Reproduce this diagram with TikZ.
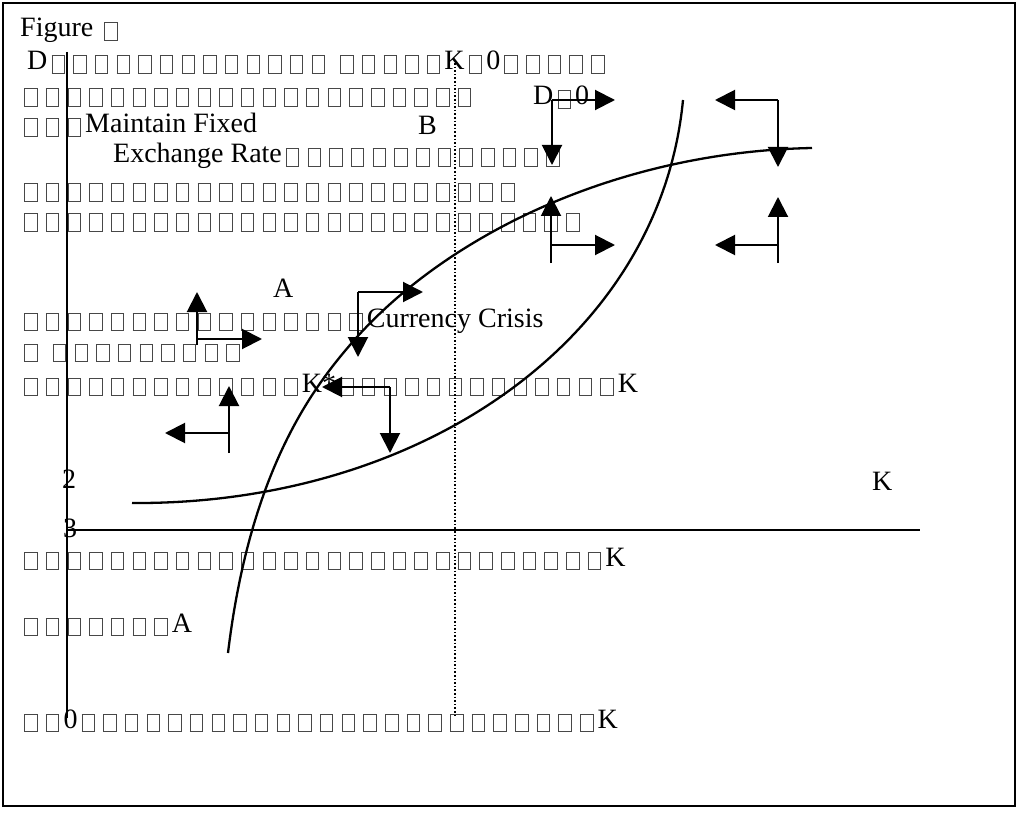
\documentclass[tikz,border=0pt]{standalone}
\usepackage{fontspec}
\setmainfont{Liberation Serif}
\usetikzlibrary{arrows.meta}
\definecolor{tofu}{gray}{0.28}
% one empty glyph box on a fixed pitch
\newcommand\bx{\hbox to 21.67pt{\hss{\color{tofu}\raisebox{-3pt}{\setlength\fboxsep{0pt}\setlength\fboxrule{1pt}\fbox{\rule{0pt}{16.5pt}\rule{11.5pt}{0pt}}}}\hss}}
% a run of n boxes
\newcount\bxn
\newcommand\bxs[1]{\bxn=#1\relax\loop\ifnum\bxn>0 \bx\advance\bxn by -1 \repeat}
\begin{document}
\begin{tikzpicture}[x=1pt,y=-1pt,
  txt/.style={anchor=base west,inner sep=0pt,font=\fontsize{28}{33}\selectfont},
  flow/.style={line width=2pt,-{Triangle[length=20pt,width=20pt]}},
  curve/.style={line width=2.3pt}]
\useasboundingbox (0,0) rectangle (1025,813);
\fill[white] (0,0) rectangle (1025,813);
% frame
\draw[line width=1.4pt] (3,3) rectangle (1015,806);
\draw[line width=2.5pt] (3,3) -- (1015,3);

% text lines
\node[txt] (fig) at (20,37) {Figure \bx};
\node[txt] (r1) at (27,70) {D\bxs{13} \bxs{5}K\bx 0\bxs{5}};
\node[txt] (r2) at (20,103) {\bxs{21}};
\node[txt] (d0) at (533,105) {D\bx 0};
\node[txt] (r3) at (20,133) {\bxs{3}Maintain Fixed};
\node[txt] (lb) at (418,135) {B};
\node[txt] (r3b) at (113,163) {Exchange Rate\bxs{13}};
\node[txt] (r4) at (20,198) {\bxs{23}};
\node[txt] (r5) at (20,228) {\bxs{26}};
\node[txt] (la) at (273,297) {A};
\node[txt] (r6) at (20,327) {\bxs{16}Currency Crisis};
\node[txt] (r7) at (20,358) {\bx\ \bxs{9}};
\node[txt] (r8) at (20,392) {\bxs{13}K*\bxs{13}K};
\node[txt] (n2) at (62,488) {2};
\node[txt] (kax) at (872,490) {K};
\node[txt] (n3) at (63,537) {3};
\node[txt] (r9) at (20,566) {\bxs{27}K};
\node[txt] (r10) at (20,632) {\bxs{7}A};
\node[txt] (r11) at (20,728) {\bxs{2}0\bxs{24}K};

% axes and the dotted marker
\coordinate (ytop) at (67,52);
\coordinate (orig) at (67,718);
\coordinate (xl) at (67,530);
\coordinate (xr) at (920,530);
\draw[line width=2.8pt] (ytop) -- (orig);
\draw[line width=2pt] (xl) -- (xr);
\coordinate (dtop) at (455,63);
\coordinate (dbot) at (455,718);
\draw[line width=1.6pt,dotted] (dtop) -- (dbot);

% convex curve
\draw[curve] (132,503) .. controls (420,505) and (660,340) .. (683,100);
% concave curve
\draw[curve] (228,653) .. controls (249.6,473) and (311,390.4) .. (350,345)
             .. controls (441,238.6) and (612,152) .. (812,148);

% direction arrows
\coordinate (c1) at (552,100);
\coordinate (c1r) at (615,100);
\coordinate (c1d) at (552,165);
\draw[flow] (c1) -- (c1r);
\draw[flow] (c1) -- (c1d);

\coordinate (c2) at (778,100);
\coordinate (c2l) at (715,100);
\coordinate (c2d) at (778,167);
\draw[flow] (c2) -- (c2l);
\draw[flow] (c2) -- (c2d);

\coordinate (c3) at (778,245);
\coordinate (c3s) at (778,263);
\coordinate (c3u) at (778,197);
\coordinate (c3l) at (715,245);
\draw[flow] (c3s) -- (c3u);
\draw[flow] (c3) -- (c3l);

\coordinate (c4) at (551,245);
\coordinate (c4s) at (551,263);
\coordinate (c4u) at (551,196);
\coordinate (c4r) at (615,245);
\draw[flow] (c4s) -- (c4u);
\draw[flow] (c4) -- (c4r);

\coordinate (c5) at (358,292);
\coordinate (c5r) at (423,292);
\coordinate (c5d) at (358,357);
\draw[flow] (c5) -- (c5r);
\draw[flow] (c5) -- (c5d);

\coordinate (c6) at (390,387);
\coordinate (c6l) at (322,387);
\coordinate (c6d) at (390,453);
\draw[flow] (c6) -- (c6l);
\draw[flow] (c6) -- (c6d);

\coordinate (c7) at (197,339);
\coordinate (c7s) at (197,345);
\coordinate (c7u) at (197,292);
\coordinate (c7r) at (262,339);
\draw[flow] (c7s) -- (c7u);
\draw[flow] (c7) -- (c7r);

\coordinate (c8) at (229,433);
\coordinate (c8s) at (229,453);
\coordinate (c8u) at (229,386);
\coordinate (c8l) at (165,433);
\draw[flow] (c8s) -- (c8u);
\draw[flow] (c8) -- (c8l);
\end{tikzpicture}
\end{document}
